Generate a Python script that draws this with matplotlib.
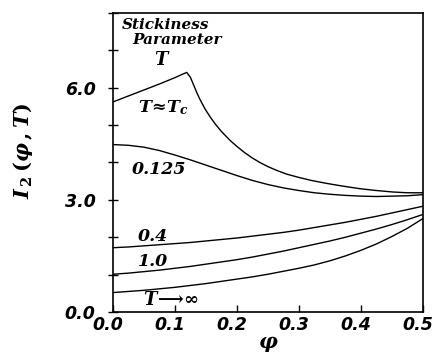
import matplotlib
matplotlib.use("Agg")
import matplotlib.pyplot as plt
import matplotlib.transforms as mtransforms
from matplotlib.font_manager import FontProperties

plt.rcParams['mathtext.fontset'] = 'custom'
plt.rcParams['mathtext.it'] = 'DejaVu Serif:italic:bold'
plt.rcParams['mathtext.rm'] = 'DejaVu Serif:bold'
plt.rcParams['mathtext.bf'] = 'DejaVu Serif:bold'

# data
phi_c = [0.0, 0.025, 0.05, 0.075, 0.1, 0.112, 0.119, 0.125, 0.13, 0.135, 0.14,
         0.148, 0.156, 0.165, 0.175, 0.189, 0.2, 0.212, 0.224, 0.237, 0.25,
         0.264, 0.28, 0.3, 0.32, 0.345, 0.37, 0.398, 0.425, 0.452, 0.475, 0.5]
I_c = [5.62, 5.78, 5.94, 6.10, 6.27, 6.36, 6.41, 6.28, 6.08, 5.88, 5.70,
       5.45, 5.24, 5.03, 4.83, 4.59, 4.43, 4.27, 4.13, 4.00, 3.89,
       3.79, 3.69, 3.60, 3.52, 3.44, 3.37, 3.30, 3.25, 3.21, 3.19, 3.19]

phi = [0.0, 0.025, 0.05, 0.075, 0.1, 0.125, 0.15, 0.175, 0.2, 0.225, 0.25,
       0.275, 0.3, 0.325, 0.35, 0.375, 0.4, 0.425, 0.45, 0.475, 0.5]
I_0125 = [4.48, 4.46, 4.41, 4.32, 4.20, 4.07, 3.93, 3.79, 3.65, 3.52, 3.41,
          3.32, 3.25, 3.19, 3.15, 3.12, 3.10, 3.09, 3.10, 3.11, 3.14]
I_04 = [1.72, 1.74, 1.77, 1.80, 1.83, 1.86, 1.90, 1.94, 1.98, 2.03, 2.08,
        2.13, 2.19, 2.26, 2.33, 2.40, 2.48, 2.56, 2.65, 2.74, 2.83]
I_10 = [1.01, 1.04, 1.08, 1.12, 1.17, 1.22, 1.28, 1.34, 1.40, 1.47, 1.55,
        1.63, 1.72, 1.81, 1.90, 2.00, 2.11, 2.22, 2.34, 2.47, 2.61]
I_inf = [0.52, 0.55, 0.58, 0.62, 0.66, 0.71, 0.76, 0.82, 0.88, 0.94, 1.01,
         1.09, 1.17, 1.26, 1.37, 1.50, 1.65, 1.82, 2.02, 2.24, 2.50]

xticks = [0.0, 0.1, 0.2, 0.3, 0.4, 0.5]
xticklabels = ["0.0", "0.1", "0.2", "0.3", "0.4", "0.5"]
yticks = [0, 1, 2, 3, 4, 5, 6, 7, 8]
yticklabels = ["0.0", "", "", "3.0", "", "", "6.0", "", ""]

fig = plt.figure(figsize=(4.36, 3.56), dpi=100)
ax = fig.add_axes([0.259, 0.1236, 0.711, 0.8399])

lw = 1.0
ax.plot(phi_c, I_c, color='black', lw=lw)
for ys in (I_0125, I_04, I_10, I_inf):
    ax.plot(phi, ys, color='black', lw=lw)

ax.set_xlim(0, 0.5)
ax.set_ylim(0, 8)
ax.set_xticks(xticks)
ax.set_xticklabels(xticklabels)
ax.set_yticks(yticks)
ax.set_yticklabels(yticklabels)

ax.tick_params(axis='x', direction='in', length=5, width=1, pad=3)
ax.tick_params(axis='y', direction='inout', length=7, width=1, pad=9)
for s in ax.spines.values():
    s.set_linewidth(1.2)

tick_fp = FontProperties(family='DejaVu Sans', weight='bold', style='italic', size=12.5)
shift = mtransforms.ScaledTranslation(-5 / 100, 0, fig.dpi_scale_trans)
for lab in ax.get_xticklabels():
    lab.set_fontproperties(tick_fp)
    lab.set_transform(lab.get_transform() + shift)
for lab in ax.get_yticklabels():
    lab.set_fontproperties(tick_fp)

ax.set_xlabel(r'$\varphi$', fontsize=15, labelpad=0)
ax.set_ylabel(r'$I_{\,2}\,(\varphi\,,T)$', fontsize=15)
ax.yaxis.set_label_coords(-0.25, 0.54)

txt = dict(family='DejaVu Serif', weight='bold', style='italic', color='black')
ax.text(0.015, 7.58, 'Stickiness', fontsize=11, **txt)
ax.text(0.031, 7.18, 'Parameter', fontsize=11, **txt)
ax.text(0.067, 6.6, r'$T$', fontsize=13)
ax.text(0.040, 5.33, r'$T\!\approx\! T_c$', fontsize=12.5)
ax.text(0.031, 3.70, '0.125', fontsize=12.5, **txt)
ax.text(0.040, 1.91, '0.4', fontsize=12.5, **txt)
ax.text(0.040, 1.23, '1.0', fontsize=12.5, **txt)
ax.text(0.048, 0.2, r'$T\!\longrightarrow\!\infty$', fontsize=13)

fig.savefig('out.png', dpi=100)
